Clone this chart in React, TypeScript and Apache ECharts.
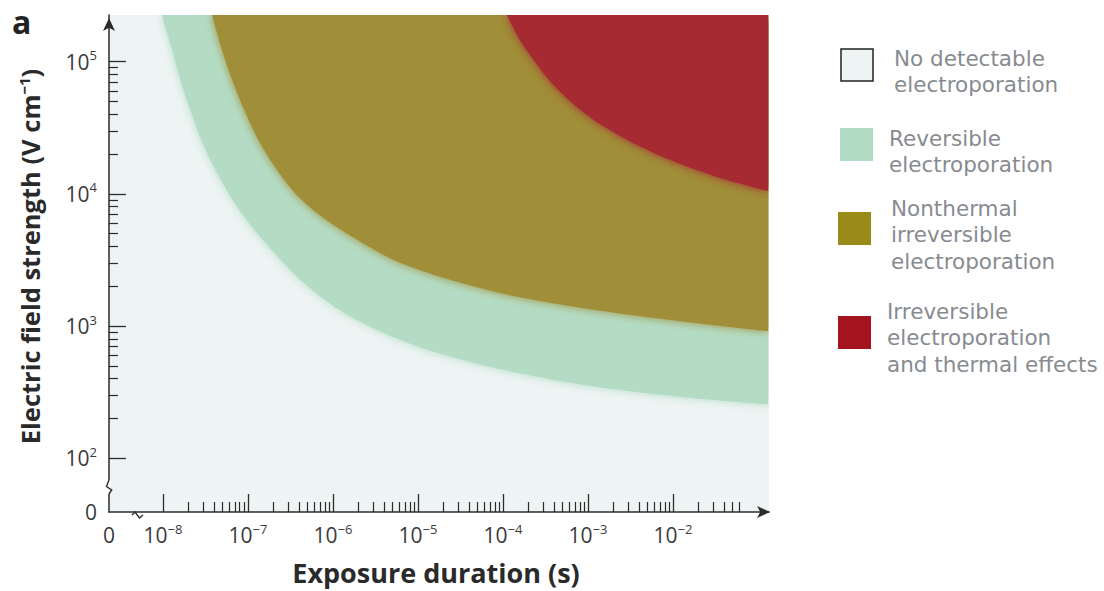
import React, { useEffect, useRef } from "react";
import * as echarts from "echarts";

// ---- data ----
// exponents of the labelled decades
const durationDecades = [-8, -7, -6, -5, -4, -3, -2];
const fieldDecades = [2, 3, 4, 5];
const minorMultipliers = [2, 3, 4, 5, 6, 7, 8, 9];
const lastDecadeMultipliers = [2, 3, 4, 5, 6];

// region boundaries: [exposure duration (s), electric field (V/cm)]
const reversibleBoundary = [
  [9.7e-9, 2.25e5], [1.28e-8, 1.23e5], [1.67e-8, 6.7e4], [2.19e-8, 4.0e4],
  [2.96e-8, 2.38e4], [4.21e-8, 1.49e4], [6.49e-8, 9.2e3], [1.11e-7, 5.65e3],
  [2.08e-7, 3.54e3], [4.32e-7, 2.18e3], [1.06e-6, 1.39e3], [3.12e-6, 9.5e2],
  [1.21e-5, 6.7e2], [7.03e-5, 4.92e2], [6.14e-4, 3.73e2], [7.03e-3, 3.03e2],
  [0.131, 2.55e2],
];
const nonthermalBoundary = [
  [3.77e-8, 2.25e5], [4.94e-8, 1.23e5], [6.49e-8, 7.33e4], [8.98e-8, 4.36e4],
  [1.31e-7, 2.59e4], [2.08e-7, 1.6e4], [3.67e-7, 1.0e4], [7.43e-7, 6.71e3],
  [1.82e-6, 4.59e3], [5.36e-6, 3.13e3], [2.08e-5, 2.3e3], [1.21e-4, 1.71e3],
  [1.06e-3, 1.34e3], [1.21e-2, 1.09e3], [0.131, 9.16e2],
];
const thermalBoundary = [
  [1.11e-4, 2.25e5], [1.58e-4, 1.46e5], [2.38e-4, 1.0e5], [3.87e-4, 6.71e4],
  [7.03e-4, 4.67e4], [1.46e-3, 3.3e4], [3.57e-3, 2.38e4], [1.06e-2, 1.74e4],
  [3.57e-2, 1.32e4], [0.131, 1.05e4],
];

const legendLabels = [
  "No detectable\nelectroporation",
  "Reversible\nelectroporation",
  "Nonthermal\nirreversible\nelectroporation",
  "Irreversible\nelectroporation\nand thermal effects",
];

// ---- styling ----
const X_MIN = -8.635;
const X_MAX = -0.871;
const Y_MIN = 1.594;
const Y_MAX = 5.353;

const BG = "#eef4f4";
const GREEN = "#b4dcc5";
const OLIVE = "#a08f37";
const RED = "#a62a30";
const LEGEND_COLORS = ["#eef4f4", "#b2dcc3", "#998b17", "#a3141e"];
const AXIS = "#2b2b2b";
const TICK_TEXT = "#3a3a3a";
const LEGEND_TEXT = "#878b90";
const FONT = "'Open Sans', 'Noto Sans', sans-serif";
const LEGEND_FONT = "'DejaVu Sans', sans-serif";

const log = (v: number) => Math.log10(v);
const toLog = (pts: number[][]) => pts.map(([t, e]) => [log(t), log(e)]);

const xMinorTicks: number[] = [];
durationDecades.forEach((d, i) => {
  const mult = i === durationDecades.length - 1 ? lastDecadeMultipliers : minorMultipliers;
  mult.forEach((m) => xMinorTicks.push(log(m * Math.pow(10, d))));
});
const yMinorTicks: number[] = [];
fieldDecades.slice(0, -1).forEach((d) => {
  minorMultipliers.forEach((m) => yMinorTicks.push(log(m * Math.pow(10, d))));
});

const supRich = {
  b: { fontSize: 21, fontFamily: FONT, color: TICK_TEXT, lineHeight: 26 },
  s: { fontSize: 13, fontFamily: FONT, color: TICK_TEXT, lineHeight: 26, verticalAlign: "top" as const, padding: [0, 0, 12, 0] },
};

const powLabel = (v: number, min: number) => {
  if (v < min + 0.05) return "{b|0}";
  const n = Math.round(v);
  return n < 0 ? `{b|10}{s|−${-n}}` : `{b|10}{s|${n}}`;
};

function regionSeries(name: string, pts: number[][], color: string, z: number) {
  return {
    name,
    type: "line",
    data: toLog(pts),
    symbol: "none",
    showSymbol: false,
    smooth: 0.3,
    lineStyle: { width: 0, opacity: 0 },
    areaStyle: { color, opacity: 1, origin: "end", shadowBlur: 10, shadowColor: color },
    z,
    silent: true,
  };
}

export default function App() {
  const ref = useRef<HTMLDivElement>(null);

  useEffect(() => {
    if (!ref.current) return;
    const chart = echarts.init(ref.current, undefined, { renderer: "svg" });

    const legendGraphics: any[] = [];
    const boxes = [
      { x: 841, y: 49, w: 32, h: 32, tx: 894, ty: 45 },
      { x: 840, y: 128, w: 33, h: 33, tx: 889, ty: 125 },
      { x: 838, y: 212, w: 33, h: 33, tx: 891, ty: 195 },
      { x: 838, y: 316, w: 33, h: 33, tx: 887, ty: 298 },
    ];
    boxes.forEach((b, i) => {
      legendGraphics.push({
        type: "rect",
        shape: { x: b.x, y: b.y, width: b.w, height: b.h },
        style: {
          fill: LEGEND_COLORS[i],
          stroke: i === 0 ? "#222" : null,
          lineWidth: i === 0 ? 1.5 : 0,
        },
      });
      legendGraphics.push({
        type: "text",
        x: b.tx,
        y: b.ty,
        style: {
          text: legendLabels[i],
          fontSize: 21.5,
          fontFamily: LEGEND_FONT,
          fill: LEGEND_TEXT,
          lineHeight: 26.6,
          verticalAlign: "top",
          align: "left",
        },
      });
    });

    chart.setOption({
      animation: false,
      grid: {
        left: 109,
        right: 335,
        top: 15,
        bottom: 76,
        show: true,
        backgroundColor: BG,
        borderWidth: 0,
      },
      xAxis: [
        {
          type: "value",
          min: X_MIN,
          max: X_MAX,
          position: "bottom",
          name: "Exposure duration (s)",
          nameLocation: "middle",
          nameGap: 47,
          nameTextStyle: { fontSize: 27, fontWeight: "bold", fontFamily: FONT, color: "#2a2a2a", padding: [0, 6, 0, 0] },
          axisLine: {
            show: true,
            lineStyle: { color: AXIS, width: 1.5 },
            symbol: ["none", "arrow"],
            symbolSize: [9, 13],
            symbolOffset: [0, 1],
          },
          axisTick: { show: true, inside: true, length: 18, customValues: durationDecades, lineStyle: { color: AXIS, width: 1.3 } },
          axisLabel: {
            show: true,
            margin: 10,
            customValues: [X_MIN, ...durationDecades],
            formatter: (v: number) => powLabel(v, X_MIN),
            rich: supRich,
          },
          splitLine: { show: false },
        },
        {
          type: "value",
          min: X_MIN,
          max: X_MAX,
          position: "bottom",
          axisLine: { show: false },
          axisTick: { show: true, inside: true, length: 10, customValues: xMinorTicks, lineStyle: { color: AXIS, width: 1.2 } },
          axisLabel: { show: false },
          splitLine: { show: false },
        },
      ],
      yAxis: [
        {
          type: "value",
          min: Y_MIN,
          max: Y_MAX,
          position: "left",
          name: "Electric field strength (V cm{s|−1})",
          nameLocation: "middle",
          nameRotate: 90,
          nameGap: 66,
          nameTextStyle: {
            fontSize: 25.5,
            fontWeight: "bold",
            fontFamily: FONT,
            color: "#2a2a2a",
            padding: [0, 0, 0, 14],
            rich: {
              s: { fontSize: 15, fontWeight: "bold", fontFamily: FONT, color: "#2a2a2a", verticalAlign: "top", padding: [0, 0, 12, 0] },
            },
          },
          axisLine: {
            show: true,
            lineStyle: { color: AXIS, width: 1.5 },
            symbol: ["none", "arrow"],
            symbolSize: [9, 13],
            symbolOffset: [0, -3],
          },
          axisTick: { show: true, inside: true, length: 17, customValues: fieldDecades, lineStyle: { color: AXIS, width: 1.3 } },
          axisLabel: {
            show: true,
            margin: 12,
            customValues: [Y_MIN, ...fieldDecades],
            formatter: (v: number) => powLabel(v, Y_MIN),
            rich: supRich,
          },
          splitLine: { show: false },
        },
        {
          type: "value",
          min: Y_MIN,
          max: Y_MAX,
          position: "left",
          axisLine: { show: false },
          axisTick: { show: true, inside: true, length: 9, customValues: yMinorTicks, lineStyle: { color: AXIS, width: 1.2 } },
          axisLabel: { show: false },
          splitLine: { show: false },
        },
      ],
      series: [
        regionSeries("Reversible electroporation", reversibleBoundary, GREEN, 2),
        regionSeries("Nonthermal irreversible electroporation", nonthermalBoundary, OLIVE, 3),
        regionSeries("Irreversible electroporation and thermal effects", thermalBoundary, RED, 4),
      ],
      graphic: [
        {
          type: "text",
          x: 12,
          y: 5,
          style: { text: "a", fontSize: 32, fontWeight: "bold", fontFamily: FONT, fill: "#222", verticalAlign: "top" },
        },
        // y-axis break
        { type: "line", shape: { x1: 109, y1: 480, x2: 109, y2: 494 }, style: { stroke: "#ffffff", lineWidth: 3 }, z: 100 },
        {
          type: "polyline",
          shape: { points: [[109, 480], [106.5, 486.5], [111.7, 490], [109, 494]] },
          style: { stroke: AXIS, lineWidth: 1.4, fill: null },
          z: 101,
        },
        // x-axis break
        { type: "line", shape: { x1: 132, y1: 515, x2: 143, y2: 515 }, style: { stroke: "#ffffff", lineWidth: 3 }, z: 100 },
        {
          type: "polyline",
          shape: { points: [[132, 515], [135, 512], [139.5, 518], [143, 515]] },
          style: { stroke: AXIS, lineWidth: 1.4, fill: null },
          z: 101,
        },
        ...legendGraphics,
      ],
    });

    return () => chart.dispose();
  }, []);

  return (
    <div
      ref={ref}
      style={{ position: "absolute", left: 0, top: 0, width: 1104, height: 591, background: "#ffffff" }}
    />
  );
}
